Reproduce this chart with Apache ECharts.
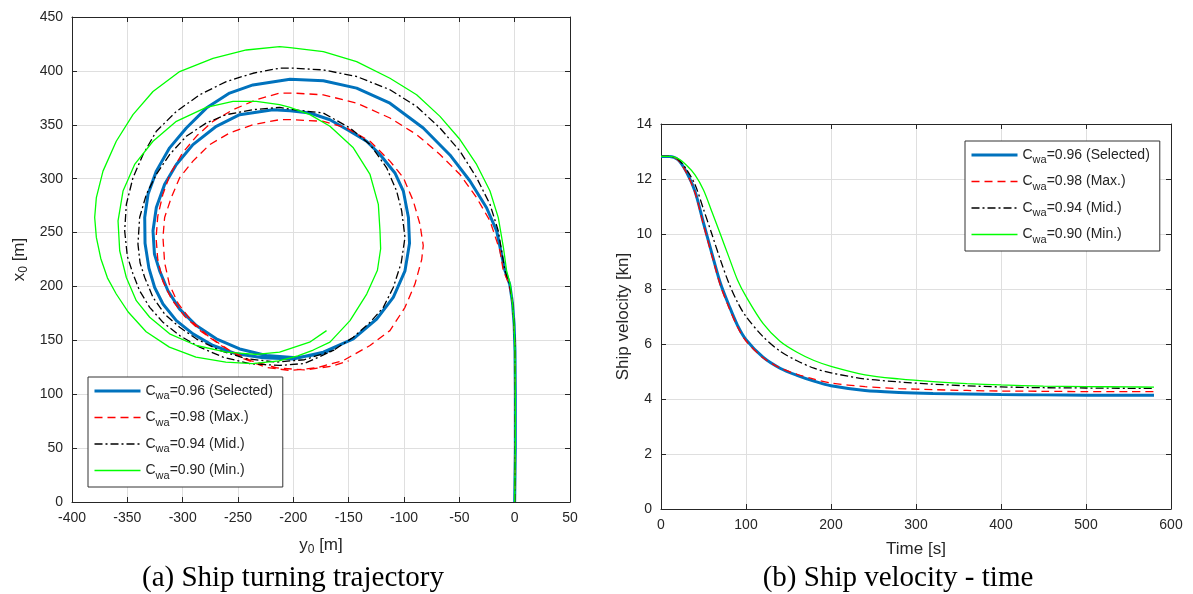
<!DOCTYPE html>
<html><head><meta charset="utf-8">
<script src="https://cdn.jsdelivr.net/npm/echarts@6/dist/echarts.min.js"></script>
<style>html,body{margin:0;padding:0;background:#fff}#c{width:1193px;height:594px}</style>
</head><body><div id="c"></div>
<script>
// ---------- data ----------
var seriesNames = ['Cwa=0.96 (Selected)', 'Cwa=0.98 (Max.)', 'Cwa=0.94 (Mid.)', 'Cwa=0.90 (Min.)'];

// Ship turning trajectory: points [y0, x0] in metres
var trajSelected = [[0,0],[0.6,50],[0.6,100],[0.3,140],[-0.5,165],[-2,185],[-4.5,202],[-8.8,214.7],[-16.3,251.6],[-25.4,273],[-40.4,297.8],[-58.5,322],[-82.6,347],[-112.7,370],[-142.8,384],[-172.9,390.8],[-203,392.3],[-236.5,387],[-257.6,379.4],[-278.6,365.5],[-296.7,347],[-311.8,328.6],[-323.8,307],[-331.3,285.5],[-334.3,264],[-334,240],[-330.5,217],[-325.3,199],[-317.8,183.7],[-305.7,168.3],[-290.7,156],[-272.6,145.2],[-251.5,137.5],[-227.4,133.8],[-200.3,132.6],[-172.9,139],[-145.8,151.4],[-124.7,169.8],[-109.7,189.8],[-99.1,214.5],[-95,240],[-96,264],[-100.6,288.5],[-108,305],[-121.7,322.4],[-133.8,334.7],[-148.8,344],[-166.9,354.7],[-185,360.9],[-203,363],[-218.4,364],[-248.5,359.4],[-269.6,348.6],[-290.7,331.6],[-305.7,313.2],[-316.3,294.7],[-323.8,273.2],[-326.8,251.6],[-325.5,230],[-320.8,214.5],[-313.3,196],[-302.7,179],[-287.7,163.7],[-269.6,151.4],[-248.5,142],[-224.4,136],[-197.3,133.8],[-175,137.5],[-164,142]];
var trajMax = [[0,0],[0.6,50],[0.6,100],[0.3,140],[-0.5,165],[-2,185],[-5,202],[-10.3,214.7],[-13.3,233.1],[-22.3,260.8],[-34.4,282.4],[-49.4,303.9],[-67.5,322.4],[-88.6,340.9],[-112.7,356.3],[-142.8,370.1],[-172.9,377.8],[-200,379.4],[-212.4,379.4],[-233.5,373.2],[-254.5,364],[-272.6,353.2],[-287,340],[-300,324],[-311,305],[-318,285],[-322.5,265],[-324,245],[-322.5,225],[-318,205],[-310,188],[-298,172],[-283,158],[-265,145],[-245,133],[-225,125],[-203,122],[-178.9,124.6],[-154.8,131.3],[-130.7,145.2],[-112.7,159],[-99.1,180.6],[-90.1,202.2],[-84,225],[-82.6,238],[-85.6,257.8],[-91.6,279.3],[-100.6,300.9],[-112.7,316.3],[-130.7,334.7],[-151.8,347],[-172.9,353.2],[-200,354.7],[-212.4,354.7],[-236.5,350.1],[-257.6,342.4],[-275.6,331.6],[-290.7,316.3],[-302.7,300.9],[-310.3,282.4],[-316.3,264],[-317.8,245.5],[-316.3,222],[-312,202],[-304,184],[-292,168],[-277,154],[-258,141],[-238,131],[-215,124.5],[-190,122.5],[-165,126],[-150,131]];
var trajMid = [[0,0],[0.6,50],[0.6,100],[0.3,140],[-0.5,165],[-2,185],[-4.5,202],[-8.8,214.7],[-14.8,251.6],[-22.3,276.2],[-34.4,300.9],[-49.4,325.5],[-67.5,347],[-88.6,367],[-112.7,382.5],[-142.8,394.8],[-172.9,400.9],[-200,402.5],[-212.4,402.5],[-236.5,397.8],[-260.6,390.1],[-284.6,377.8],[-305.7,362.4],[-323.8,344],[-335.8,322.4],[-344.9,300.9],[-350.9,276.2],[-352.4,251.6],[-350,228],[-345,212],[-338.9,196],[-329.8,180.6],[-317.8,166.7],[-302.7,154.4],[-284.6,143.7],[-263.5,134.4],[-239.4,128.3],[-212.4,126.7],[-190,128.5],[-163.9,140.6],[-145.8,152.9],[-130.7,166.7],[-118.7,180.6],[-109.7,199],[-102.5,222],[-99.1,245.5],[-102.1,270.1],[-106.7,288.6],[-115.7,310.1],[-130.7,331.7],[-148.8,347],[-172.9,360.9],[-200,364],[-212.4,366.1],[-236.5,364],[-260.6,359.4],[-278.6,351.7],[-296.7,339.3],[-311.8,322.4],[-323.8,304],[-332.8,285.5],[-338.9,264],[-340.4,239.3],[-338.5,222],[-334.3,208.3],[-326.8,189.8],[-316.3,174.4],[-302.7,162.1],[-287.7,151.4],[-266.6,140.6],[-242.5,132.9],[-215.4,129.8],[-190,132],[-163,141]];
var trajMin = [[0,0],[0.6,50],[0.6,100],[0.3,140],[-0.5,165],[-2,185],[-4,202],[-7.3,214.7],[-10,235],[-14.8,263.9],[-22.3,288.5],[-34.4,313.2],[-49.4,336.3],[-67.5,357.8],[-88.6,377.8],[-112.7,393.2],[-142.8,408.6],[-172.9,417.9],[-203,421.6],[-212.4,422.5],[-242.5,419.4],[-272.6,411.7],[-302.7,399.4],[-326.8,380.9],[-344.9,359.4],[-360,334.7],[-372,307],[-378,282.4],[-379.5,264],[-378,245.5],[-374,226],[-368,208],[-360,193],[-349,176],[-333,158],[-312,143.7],[-288,134.4],[-261,129.8],[-237,128.3],[-213,131],[-196,135.5],[-182,141],[-166.9,148.3],[-148.8,168.3],[-133.7,192.9],[-124,215],[-121.1,235],[-121.7,251.6],[-123.2,276.2],[-130.7,303.9],[-145.8,328.6],[-166.9,348.6],[-185,359.4],[-203,366.1],[-212.4,368.6],[-233.5,371.7],[-254.5,371.7],[-278.6,366.1],[-305.7,353.2],[-326.8,334.7],[-343.4,313.2],[-353.9,288.5],[-358.4,260.8],[-356.9,233.1],[-350.9,208.3],[-341.9,186.8],[-329.8,171.4],[-311.8,156],[-287.7,145.2],[-260.6,139],[-233.5,136.9],[-212.4,139],[-185.3,148.3],[-170,159]];

// Ship velocity [kn] vs time [s]
var timeS = [0,10,20,30,40,50,60,70,80,90,100,120,140,160,180,200,240,280,320,360,400,450,500,550,580];
var velSelected = [12.82,12.82,12.7,12.25,11.55,10.4,9.28,8.2,7.4,6.68,6.16,5.52,5.12,4.86,4.65,4.48,4.31,4.24,4.2,4.18,4.16,4.15,4.14,4.14,4.14];
var velMax = [12.82,12.82,12.69,12.22,11.5,10.33,9.2,8.12,7.32,6.62,6.11,5.5,5.13,4.9,4.72,4.58,4.45,4.38,4.34,4.31,4.29,4.28,4.27,4.27,4.27];
var velMid = [12.82,12.82,12.72,12.35,11.8,10.9,9.98,9.05,8.2,7.52,7.0,6.27,5.74,5.39,5.12,4.95,4.73,4.62,4.54,4.48,4.44,4.41,4.4,4.39,4.39];
var velMin = [12.82,12.82,12.74,12.5,12.15,11.6,10.8,9.98,9.15,8.33,7.73,6.75,6.1,5.7,5.4,5.19,4.88,4.73,4.63,4.56,4.51,4.47,4.45,4.44,4.43];

var trajX = {min:-400, max:50, interval:50};
var trajY = {min:0, max:450, interval:50};
var velX = {min:0, max:600, interval:100};
var velY = {min:0, max:14, interval:2};

// ---------- styling ----------
var AX = '#262626';
var FONT = 'Liberation Sans';
var styles = [
  {color:'#0072BD', width:3, type:'solid'},
  {color:'#FF0000', width:1.3, type:[8,5]},
  {color:'#000000', width:1.3, type:[8,3,2,3]},
  {color:'#00FF00', width:1.3, type:'solid'}
];
function pairs(t, v){ return t.map(function(x,i){return [x, v[i]];}); }
var trajData = [trajSelected, trajMax, trajMid, trajMin];
var velData = [pairs(timeS, velSelected), pairs(timeS, velMax), pairs(timeS, velMid), pairs(timeS, velMin)];

function mainAxis(idx, r, pos, name, nameGap, rotate, showLabel) {
  return {
    type:'value', gridIndex: idx, position: pos, min:r.min, max:r.max, interval:r.interval,
    name: name, nameLocation:'middle', nameGap: nameGap, nameRotate: rotate,
    nameTextStyle:{color:AX, fontFamily:FONT, fontSize:17, rich:{
      a:{fontSize:17, fontFamily:FONT, color:AX},
      b:{fontSize:12, fontFamily:FONT, color:AX, padding:[9,0,0,0]}
    }},
    axisLine:{show:true, onZero:false, lineStyle:{color:AX, width:1}},
    axisTick:{show:true, inside:true, length:5, lineStyle:{color:AX}},
    axisLabel:{show:showLabel, color:AX, fontFamily:FONT, fontSize:14, margin:9},
    splitLine:{show:showLabel, lineStyle:{color:'#dfdfdf', width:1}}
  };
}

var xAxes = [
  mainAxis(0, trajX, 'bottom', '{a|y}{b|0}{a| [m]}', 33, 0, true),
  mainAxis(0, trajX, 'top', '', 0, 0, false),
  mainAxis(1, velX, 'bottom', 'Time [s]', 32, 0, true),
  mainAxis(1, velX, 'top', '', 0, 0, false)
];
var yAxes = [
  mainAxis(0, trajY, 'left', '{a|x}{b|0}{a| [m]}', 42, 90, true),
  mainAxis(0, trajY, 'right', '', 0, 0, false),
  mainAxis(1, velY, 'left', 'Ship velocity [kn]', 29, 90, true),
  mainAxis(1, velY, 'right', '', 0, 0, false)
];

var series = [];
for (var i = 0; i < 4; i++) {
  series.push({type:'line', name:seriesNames[i], xAxisIndex:0, yAxisIndex:0, data:trajData[i],
    symbol:'none', showSymbol:false, animation:false, z:2+i,
    lineStyle:{color:styles[i].color, width:styles[i].width, type:styles[i].type},
    itemStyle:{color:styles[i].color}});
}
for (var j = 0; j < 4; j++) {
  series.push({type:'line', name:seriesNames[j], xAxisIndex:2, yAxisIndex:2, data:velData[j],
    symbol:'none', showSymbol:false, animation:false, smooth:0.3, z:2+j,
    lineStyle:{color:styles[j].color, width:styles[j].width, type:styles[j].type},
    itemStyle:{color:styles[j].color}});
}

function legendFmt(name){ return '{n|C}{s|wa}{n|' + name.slice(3) + '}'; }
function legendCfg(left, top){
  return {
    orient:'vertical', left:left, top:top,
    data: seriesNames.map(function(n, k){
      return {name:n, lineStyle:{color:styles[k].color, width:styles[k].width, type:styles[k].type}};
    }),
    itemWidth:46, itemHeight:14, itemGap:9,
    padding:[7,10,6,5],
    backgroundColor:'#fff', borderColor:'#333', borderWidth:1,
    selectedMode:false,
    itemStyle:{opacity:0},
    formatter: legendFmt,
    textStyle:{color:AX, fontFamily:FONT, fontSize:14, rich:{
      n:{fontSize:14, fontFamily:FONT, color:AX},
      s:{fontSize:11, fontFamily:FONT, color:AX, padding:[10,0,0,0]}
    }}
  };
}

var option = {
  backgroundColor:'#fff',
  animation:false,
  grid:[
    {left:72, top:17, width:498, height:485, containLabel:false},
    {left:661, top:124, width:510, height:385, containLabel:false}
  ],
  xAxis: xAxes,
  yAxis: yAxes,
  legend:[legendCfg(88, 377), legendCfg(965, 141)],
  series: series,
  graphic:[
    {type:'text', x:293, y:578, style:{text:'(a) Ship turning trajectory', font:'29px "Liberation Serif"', fill:'#000', textAlign:'center', textVerticalAlign:'middle'}},
    {type:'text', x:898, y:578, style:{text:'(b) Ship velocity - time', font:'29px "Liberation Serif"', fill:'#000', textAlign:'center', textVerticalAlign:'middle'}}
  ]
};
var chart = echarts.init(document.getElementById('c'), null, {renderer:'canvas'});
chart.setOption(option);
</script></body></html>
